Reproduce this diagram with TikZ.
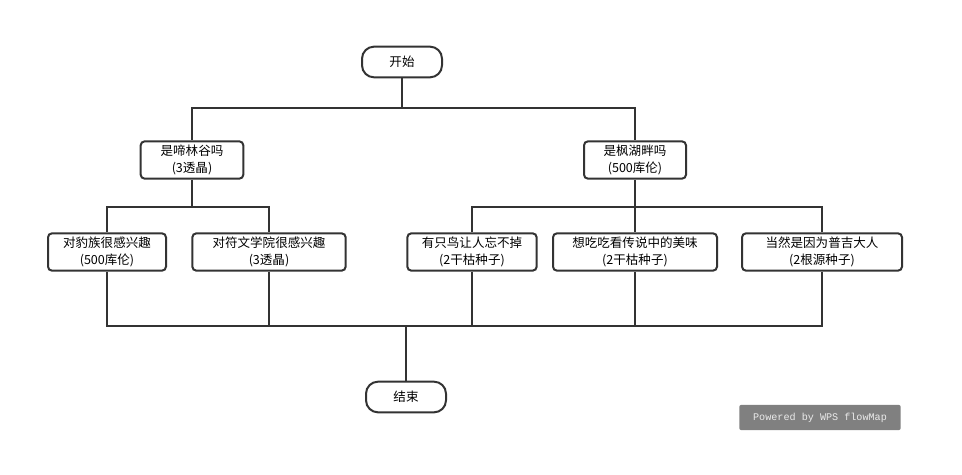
\documentclass[tikz,border=0pt]{standalone}
\usepackage{fontspec}
\setmainfont{Noto Sans CJK SC}
\setmonofont{Liberation Mono}
\definecolor{linegray}{RGB}{51,51,51}
\definecolor{markgray}{RGB}{128,128,128}
\definecolor{marktext}{RGB}{235,235,235}

\begin{document}
\begin{tikzpicture}[
        x=0.75pt, y=-0.75pt,
        box/.style={rectangle, draw=linegray, line width=1.5pt, rounded corners=3pt, fill=white, minimum width=#1, minimum height=28pt, inner sep=0pt, align=center, font=\fontsize{9.4}{12.8}\selectfont},
        term/.style={rectangle, draw=linegray, line width=1.5pt, rounded corners=9pt, fill=white, minimum width=60pt, minimum height=23pt, inner sep=0pt, font=\fontsize{9.4}{12.8}\selectfont},
        line/.style={draw=linegray, line width=1.5pt},
        stamp/.style={rectangle, fill=markgray, rounded corners=1.5pt, minimum width=121pt, minimum height=19pt, inner sep=0pt, text=marktext, font=\ttfamily\fontsize{7.6}{9}\selectfont}
    ]
        \useasboundingbox (0,0) rectangle (962,474);

        \node[term] (start) at (402,62) {开始};
        \node[box=77pt] (q1) at (192,160) {是啼林谷吗\\(3透晶)};
        \node[box=76.5pt] (q2) at (635,160) {是枫湖畔吗\\(500库伦)};

        \node[box=88.5pt] (a1) at (107,252) {对豹族很感兴趣\\(500库伦)};
        \node[box=115pt] (a2) at (269,252) {对符文学院很感兴趣\\(3透晶)};
        \node[box=97pt] (b1) at (472,252) {有只鸟让人忘不掉\\(2干枯种子)};
        \node[box=123pt] (b2) at (635,252) {想吃吃看传说中的美味\\(2干枯种子)};
        \node[box=120pt] (b3) at (822,252) {当然是因为普吉大人\\(2根源种子)};

        \node[term] (end) at (406,397) {结束};

        \node[stamp] (mark) at (820,417.5) {Powered by WPS flowMap};

        \coordinate (split0) at (402,108);
        \coordinate (split1) at (192,207);
        \coordinate (split2) at (635,207);
        \coordinate (merge) at (406,326);

        \draw[line] (start) -- (split0);
        \draw[line] (split0) -| (q1);
        \draw[line] (split0) -| (q2);

        \draw[line] (q1) -- (split1);
        \draw[line] (split1) -| (a1);
        \draw[line] (split1) -| (a2);

        \draw[line] (q2) -- (split2);
        \draw[line] (split2) -| (b1);
        \draw[line] (split2) -- (b2);
        \draw[line] (split2) -| (b3);

        \draw[line] (a1) |- (merge);
        \draw[line] (a2) |- (merge);
        \draw[line] (b1) |- (merge);
        \draw[line] (b2) |- (merge);
        \draw[line] (b3) |- (merge);
        \draw[line] (merge) -- (end);
    \end{tikzpicture}
\end{document}
